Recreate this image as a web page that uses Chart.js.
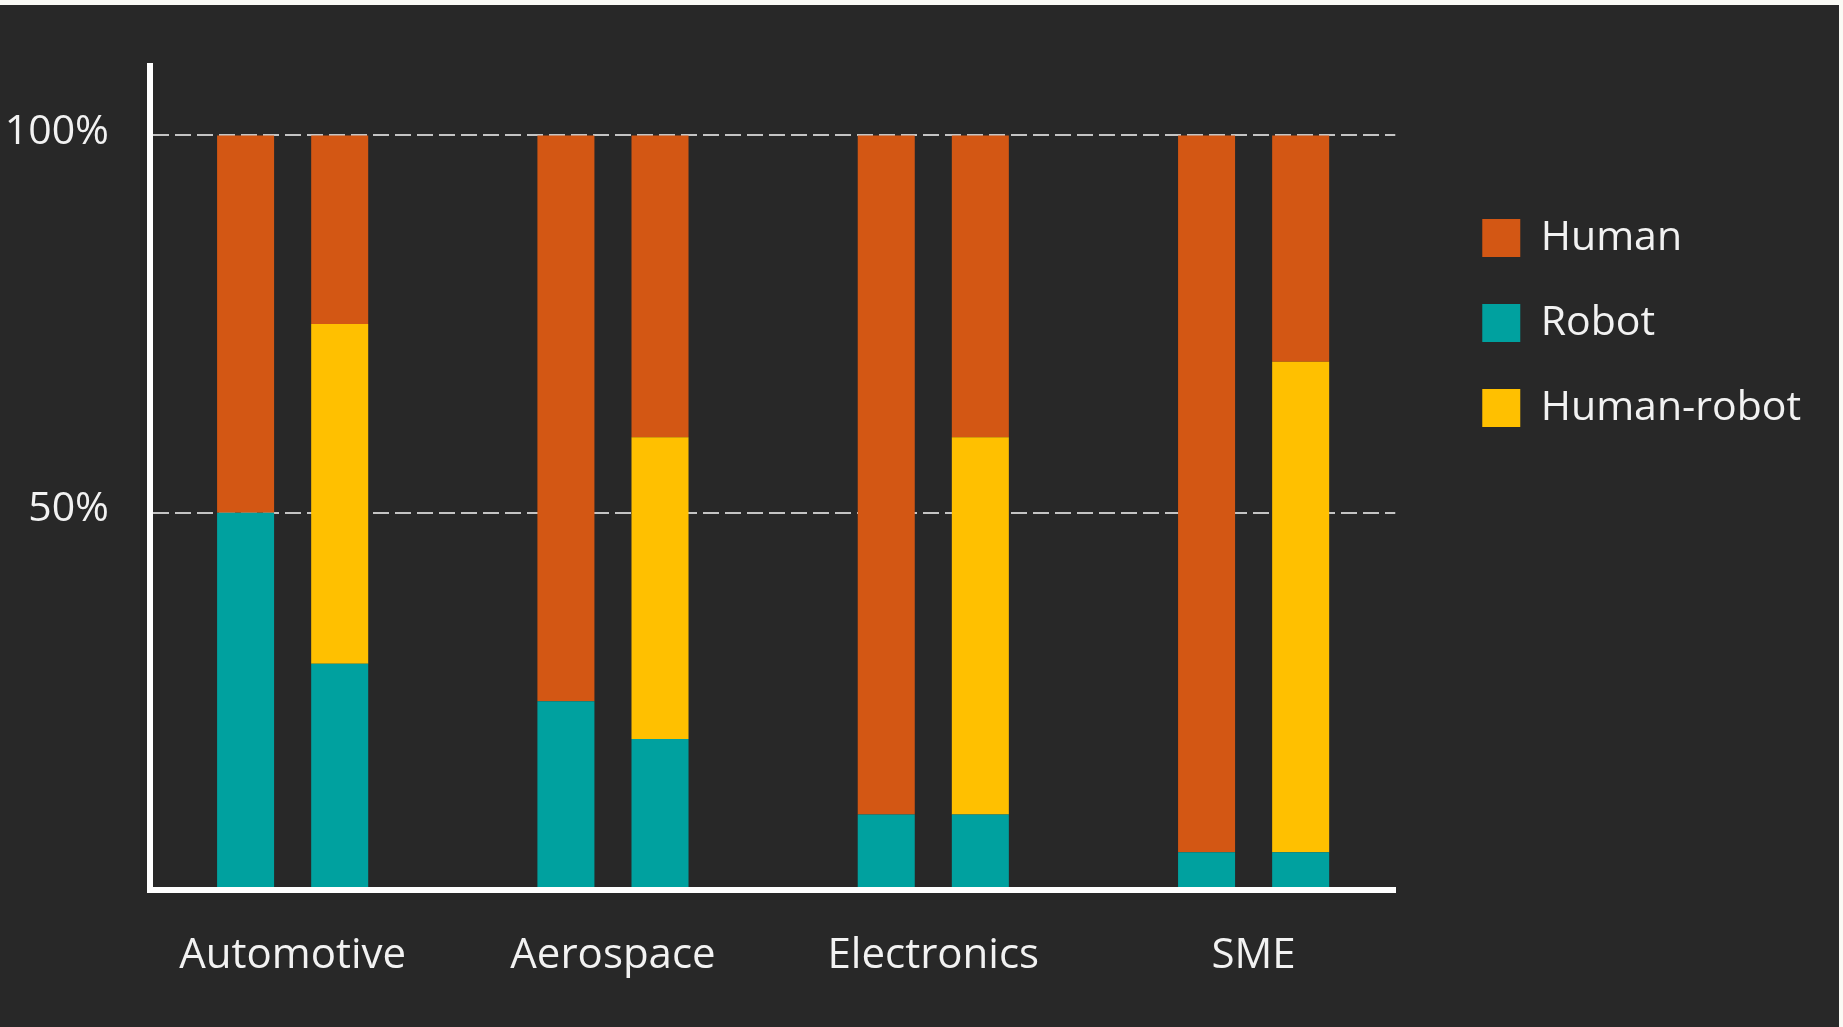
<!DOCTYPE html>
<html>
<head>
<meta charset="utf-8">
<title>Task allocation by sector</title>
<script src="https://cdn.jsdelivr.net/npm/chart.js@4/dist/chart.umd.min.js"></script>
<style>
  html, body { margin: 0; padding: 0; width: 1843px; height: 1027px; overflow: hidden; background: #fafaf5; }
  #panel { position: absolute; left: 0; top: 5px; width: 1839px; height: 1022px; background: #282828; }
  #chart { display: block; }
</style>
</head>
<body>
<div id="panel"><canvas id="chart" width="1839" height="1022"></canvas></div>
<script>
// Sectors along the x axis
const categories = ['Automotive', 'Aerospace', 'Electronics', 'SME'];

// Left bar of each pair: work split between humans and robots only (%)
const robotOnly = [50, 25, 10, 5];
const humanOnly = [50, 75, 90, 95];

// Right bar of each pair: with human-robot collaboration (%)
const robotShared = [30, 20, 10, 5];
const humanRobotShared = [45, 40, 50, 65];
const humanShared = [25, 40, 40, 30];

// Value-axis ticks (%)
const yTicks = [50, 100];

const legendOrder = ['Human', 'Robot', 'Human-robot'];
const seriesColors = { 'Human': '#D35714', 'Robot': '#00A19F', 'Human-robot': '#FFC000' };

const toPoints = values => values.map((v, i) => ({ x: i, y: v }));
const series = (label, stack, values) => ({
  label,
  stack,
  data: toPoints(values),
  backgroundColor: seriesColors[label],
  borderWidth: 0,
  categoryPercentage: 0.5875,
  barPercentage: 0.606
});

const textColor = '#f2f2f2';
Chart.defaults.font.family = "'Open Sans', 'Noto Sans', sans-serif";

new Chart(document.getElementById('chart'), {
  type: 'bar',
  data: {
    datasets: [
      series('Robot', 'split', robotOnly),
      series('Human', 'split', humanOnly),
      series('Robot', 'shared', robotShared),
      series('Human-robot', 'shared', humanRobotShared),
      series('Human', 'shared', humanShared)
    ]
  },
  options: {
    responsive: false,
    animation: false,
    layout: { padding: { top: 61, right: 28, bottom: 5.6, left: 0 } },
    plugins: {
      tooltip: { enabled: false },
      legend: {
        position: 'right',
        align: 'start',
        title: { display: true, text: '', font: { size: 10, lineHeight: 1 }, padding: { top: 97.5, bottom: 0 } },
        labels: {
          boxWidth: 38,
          boxHeight: 38,
          padding: 44,
          color: textColor,
          font: { size: 41 },
          filter: (item, data) => data.datasets.findIndex(d => d.label === item.text) === item.datasetIndex,
          sort: (a, b) => legendOrder.indexOf(a.text) - legendOrder.indexOf(b.text)
        }
      }
    },
    scales: {
      x: {
        type: 'linear',
        min: -0.4453,
        max: 3.4422,
        offset: false,
        afterBuildTicks: scale => { scale.ticks = categories.map((_, i) => ({ value: i })); },
        grid: { display: false, drawTicks: false },
        border: { display: true, color: '#ffffff', width: 6, z: 1 },
        ticks: {
          callback: value => categories[value],
          color: textColor,
          font: { size: 42 },
          padding: 40.5,
          autoSkip: false,
          maxRotation: 0,
          minRotation: 0
        }
      },
      y: {
        min: 0,
        max: 109.2,
        stacked: true,
        afterBuildTicks: scale => { scale.ticks = yTicks.map(v => ({ value: v })); },
        afterFit: scale => { scale.width = 150; scale.paddingTop = 0; scale.paddingBottom = 0; },
        grid: { color: '#c4c4c4', lineWidth: 2, drawTicks: false },
        border: { color: '#ffffff', width: 6, dash: [16, 6], z: 1 },
        ticks: {
          callback: value => value + '%',
          color: textColor,
          font: { size: 41 },
          padding: 41,
          labelOffset: -3
        }
      },
      // empty spacer between the plot and the legend
      gap: {
        position: 'right',
        display: false,
        afterFit: scale => { scale.width = 43; scale.paddingTop = 0; scale.paddingBottom = 0; }
      }
    }
  }
});
</script>
</body>
</html>
